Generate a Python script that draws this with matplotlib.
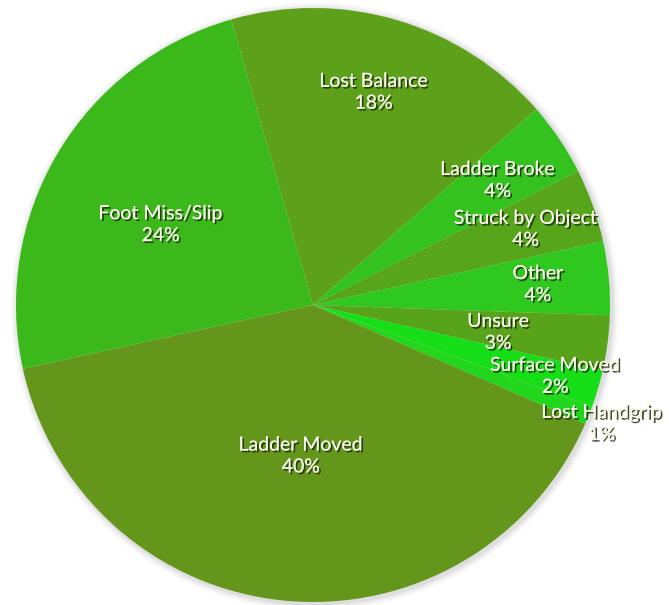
#!/usr/bin/env python
"""Pie chart of ladder fall causes."""

import matplotlib

matplotlib.use("Agg")
import matplotlib.pyplot as plt  # noqa: E402
import matplotlib.patheffects as pe  # noqa: E402
import numpy as np  # noqa: E402
from matplotlib.patches import Circle  # noqa: E402

causes = [
    "Lost Balance",
    "Ladder Broke",
    "Struck by Object",
    "Other",
    "Unsure",
    "Surface Moved",
    "Lost Handgrip",
    "Ladder Moved",
    "Foot Miss/Slip",
]
shares = [18, 4, 4, 4, 3, 2, 1, 40, 24]

colors = [
    "#5da11a", "#34c31e", "#56a51a", "#2fc81f", "#57a41a",
    "#16de16", "#22d61b", "#63961a", "#3cb91a",
]
# where each label sits, as a fraction of the radius, plus a small angle nudge
label_r = [0.745, 0.75, 0.76, 0.76, 0.63, 0.85, 1.05, 0.51, 0.58]
label_nudge = [0.5, 0, 0, 0, -1, 0, -0.5, 1, 3]


def main():
    fig = plt.figure(figsize=(6.69, 6.05), dpi=100)
    ax = fig.add_axes([0, 0, 1, 1])

    # soft shadow round the pie
    for k, a in enumerate([0.10, 0.07, 0.05, 0.03]):
        ax.add_patch(Circle((0.006, -0.006), 1.0 + 0.006 * (k + 1),
                            facecolor="#777777", edgecolor="none", alpha=a, zorder=0))

    wedges, _ = ax.pie(shares, colors=colors, startangle=106, counterclock=False,
                       radius=1.0, wedgeprops=dict(linewidth=0, zorder=1))

    shadow = [pe.withSimplePatchShadow(offset=(1.3, -1.3), shadow_rgbFace="#1c2a08", alpha=0.85),
              pe.Normal()]
    for w, name, pct, r, nudge in zip(wedges, causes, shares, label_r, label_nudge):
        ang = np.deg2rad((w.theta1 + w.theta2) / 2 + nudge)
        ax.text(r * np.cos(ang), r * np.sin(ang), f"{name}\n{pct}%",
                ha="center", va="center", fontsize=14, family="Lato",
                color="#f6f6ea", linespacing=1.35, path_effects=shadow, zorder=3)

    R = 297.0
    ax.set_xlim(-313 / R, (669 - 313) / R)
    ax.set_ylim(-(605 - 305) / R, 305 / R)
    ax.set_aspect("auto")
    ax.axis("off")
    fig.savefig("out.png", dpi=100)
    plt.close(fig)


if __name__ == "__main__":
    main()
